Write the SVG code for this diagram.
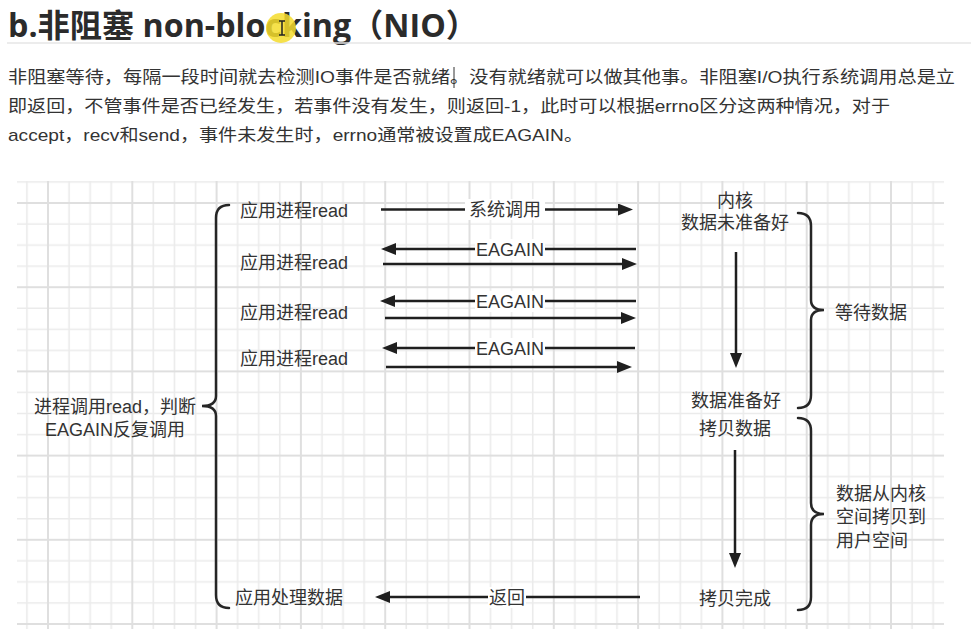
<svg xmlns="http://www.w3.org/2000/svg" width="971" height="631" viewBox="0 0 971 631">
<style>
.title{font-family:"Open Sans","Noto Sans CJK SC",sans-serif;font-weight:bold;font-size:32px;fill:#2b2b2b}
.para{font-family:"Liberation Sans","Noto Sans CJK SC",sans-serif;font-size:17px;fill:#333}
.t{font-family:"Liberation Sans","Noto Sans CJK SC",sans-serif;font-size:18px;fill:#333}
.m{text-anchor:middle}
.ln{stroke:#1f1f1f;stroke-width:2.5;fill:none}
.br{stroke:#262626;stroke-width:2.5;fill:none;stroke-linecap:round}
.bg{fill:#fff}
</style>
<defs>
<pattern id="grid" patternUnits="userSpaceOnUse" x="48" y="203" width="84.3" height="84.2">
<path d="M21.075,0V84.2M42.15,0V84.2M63.225,0V84.2M0,21.05H84.3M0,42.1H84.3M0,63.15H84.3" stroke="#ebebeb" stroke-width="1.6"/>
<path d="M0,0V84.2M84.3,0V84.2M0,0H84.3M0,84.2H84.3" stroke="#dfdfdf" stroke-width="2"/>
</pattern>
<marker id="ah" viewBox="0 0 15 12" markerWidth="15" markerHeight="12" refX="5" refY="6" orient="auto" markerUnits="userSpaceOnUse">
<path d="M0,0L15,6L0,12z" fill="#1f1f1f"/>
</marker>
</defs>
<rect width="971" height="631" fill="#fff"/>

<g id="header">
<text class="title" x="8" y="37" textLength="470" lengthAdjust="spacingAndGlyphs">b.非阻塞 non-blocking（NIO）</text>
<line x1="7" y1="43" x2="971" y2="43" stroke="#e6e6e6" stroke-width="1.5"/>
<circle cx="281" cy="28" r="15" fill="#f4dc2c" opacity="0.85"/>
<path d="M279,21h6M282,21v14M279,35h6" stroke="#222" stroke-width="1.5" fill="none"/>
</g>

<g id="paragraph">
<text class="para" x="8" y="83" textLength="947" lengthAdjust="spacingAndGlyphs">非阻塞等待，每隔一段时间就去检测IO事件是否就绪。没有就绪就可以做其他事。非阻塞I/O执行系统调用总是立</text>
<text class="para" x="8" y="112" textLength="882" lengthAdjust="spacingAndGlyphs">即返回，不管事件是否已经发生，若事件没有发生，则返回-1，此时可以根据errno区分这两种情况，对于</text>
<text class="para" x="8" y="141" textLength="575" lengthAdjust="spacingAndGlyphs">accept，recv和send，事件未发生时，errno通常被设置成EAGAIN。</text>
<line x1="454" y1="67" x2="454" y2="88" stroke="#333" stroke-width="1"/>
</g>

<rect id="grid-bg" x="17" y="181" width="927" height="448" fill="url(#grid)"/>

<g id="connectors">
<line class="ln" x1="381" y1="209.5" x2="623" y2="209.5" marker-end="url(#ah)"/>
<line class="ln" x1="636" y1="249" x2="391" y2="249" marker-end="url(#ah)"/>
<line class="ln" x1="383" y1="264" x2="627" y2="264" marker-end="url(#ah)"/>
<line class="ln" x1="636" y1="301" x2="390" y2="301" marker-end="url(#ah)"/>
<line class="ln" x1="385" y1="318" x2="626" y2="318" marker-end="url(#ah)"/>
<line class="ln" x1="635" y1="348" x2="392" y2="348" marker-end="url(#ah)"/>
<line class="ln" x1="386" y1="367" x2="622" y2="367" marker-end="url(#ah)"/>
<line class="ln" x1="736" y1="252" x2="736" y2="358" marker-end="url(#ah)"/>
<line class="ln" x1="735" y1="450" x2="735" y2="558" marker-end="url(#ah)"/>
<line class="ln" x1="640" y1="597" x2="385" y2="597" marker-end="url(#ah)"/>
<rect class="bg" x="465" y="199" width="80" height="21"/>
<text class="t m" x="505" y="216">系统调用</text>
<rect class="bg" x="475" y="239" width="70" height="21"/>
<text class="t m" x="510" y="256">EAGAIN</text>
<rect class="bg" x="475" y="291" width="70" height="21"/>
<text class="t m" x="510" y="308">EAGAIN</text>
<rect class="bg" x="475" y="338" width="70" height="21"/>
<text class="t m" x="510" y="355">EAGAIN</text>
<rect class="bg" x="488" y="587" width="38" height="21"/>
<text class="t m" x="507" y="604">返回</text>
</g>

<g id="left-brace">
<path class="br" d="M229,205Q216,205 216,218L216,396Q216,406 202,406Q216,406 216,416L216,595Q216,608 229,608"/>
<text class="t m" x="115" y="413">进程调用read，判断</text>
<text class="t m" x="115" y="436">EAGAIN反复调用</text>
</g>

<g id="app-read-1"><text class="t" x="240" y="216.5">应用进程read</text></g>
<g id="app-read-2"><text class="t" x="240" y="268.5">应用进程read</text></g>
<g id="app-read-3"><text class="t" x="240" y="318.5">应用进程read</text></g>
<g id="app-read-4"><text class="t" x="240" y="364.5">应用进程read</text></g>
<g id="app-process"><text class="t" x="235" y="603.5">应用处理数据</text></g>

<g id="kernel-not-ready">
<text class="t m" x="735" y="206.5">内核</text>
<text class="t m" x="735" y="228.5">数据未准备好</text>
</g>
<g id="data-ready"><text class="t m" x="736" y="406.5">数据准备好</text></g>
<g id="copy-data"><text class="t m" x="735" y="434.5">拷贝数据</text></g>
<g id="copy-done"><text class="t m" x="735" y="604.5">拷贝完成</text></g>

<g id="wait-brace">
<path class="br" d="M798,213Q811,213 811,226L811,300Q811,310 824,310Q811,310 811,320L811,395Q811,408 798,408"/>
<text class="t" x="835" y="318.5">等待数据</text>
</g>

<g id="copy-brace">
<path class="br" d="M798,418Q811,418 811,431L811,503Q811,514 824,514Q811,514 811,525L811,597Q811,610 798,610"/>
<text class="t" x="836" y="499.5">数据从内核</text>
<text class="t" x="836" y="523">空间拷贝到</text>
<text class="t" x="836" y="546.5">用户空间</text>
</g>
</svg>
